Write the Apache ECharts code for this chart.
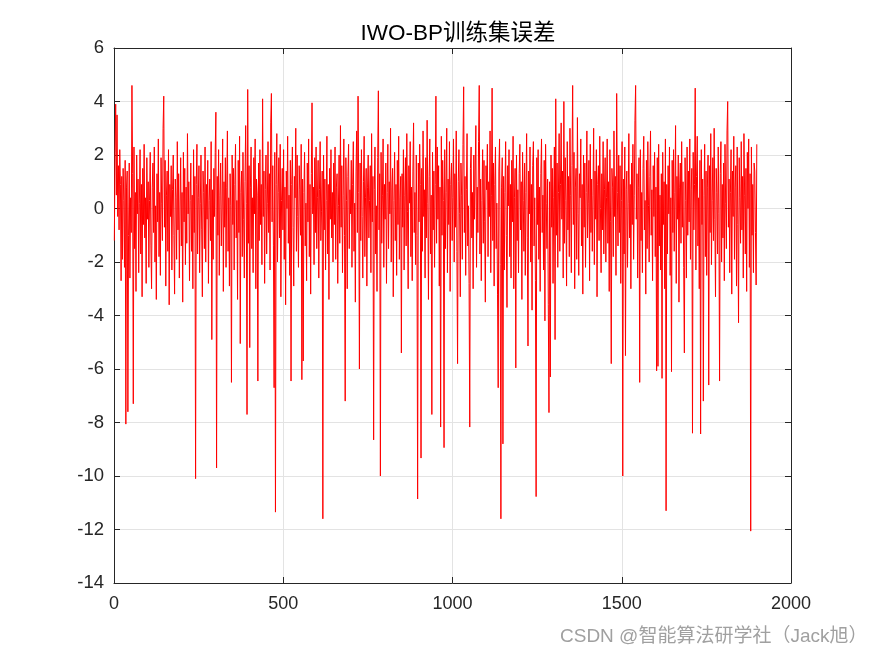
<!DOCTYPE html>
<html><head><meta charset="utf-8">
<script src="https://cdn.jsdelivr.net/npm/echarts@6/dist/echarts.min.js"></script>
<style>html,body{margin:0;padding:0;background:#fff}#c{width:875px;height:656px}</style>
</head><body><div id="c"></div>
<script>
const titleText = 'IWO-BP训练集误差';
const watermark = 'CSDN @智能算法研学社（Jack旭）';
const xStep = 2;   // sample spacing of the error series (every other sample read)
const errors = [
-1.2,2.1,3.9,0.5,3.5,-0.3,1.6,-0.8,2.2,0.9,-2.7,1.2,-1.9,1.5,0.3,-2.2,1.8,-8.06,0.8,1.4,-7.6,-1.0,1.7,-2.6,0.4,
-0.9,4.6,1.3,-7.3,2.3,-1.5,0.6,-3.1,2.0,-0.2,1.1,-2.4,0.2,2.2,-1.7,0.9,-3.3,1.5,-0.6,2.4,-1.1,0.4,-2.8,1.9,-0.4,
1.0,-2.2,0.3,2.1,-1.4,-3.0,0.8,1.7,-0.9,2.3,-2.0,0.1,-3.4,1.3,-0.5,2.6,-1.8,0.6,-2.5,1.9,0.2,-1.2,3.0,4.2,-0.7,
1.8,-2.9,0.5,1.4,-1.6,2.2,-3.6,0.9,-0.3,1.6,-2.3,0.7,2.0,-1.0,-3.2,1.1,0.4,-1.9,2.5,-0.8,1.3,-2.6,0.0,1.9,-1.4,
0.6,-3.5,2.1,-0.5,1.5,-2.1,0.8,-1.3,2.8,-0.2,1.0,-2.7,0.3,1.7,-1.6,0.5,-3.0,2.2,-0.9,1.2,-10.1,0.9,2.4,-1.7,0.4,
1.6,-2.4,0.2,2.0,-0.8,-3.3,1.4,0.6,-1.5,2.3,-2.0,0.9,-0.4,1.8,-2.8,0.3,1.1,-1.2,2.5,-4.9,0.7,-1.9,1.5,-0.3,2.1,
3.6,-9.7,1.2,-1.0,2.2,-2.5,0.5,1.7,-1.4,0.0,2.6,-3.1,1.0,-0.7,1.9,-2.2,0.8,2.9,-1.6,0.4,-2.9,1.3,0.1,-6.5,2.0,
-0.6,1.5,-2.3,0.9,2.4,-1.1,0.3,-3.4,1.8,-0.9,2.7,-5.05,0.6,1.4,-1.8,2.1,-0.4,-2.6,1.0,3.1,0.2,-7.7,4.45,-1.3,1.6,
-5.2,0.8,2.3,-1.5,0.4,-2.4,1.9,-0.2,2.6,-3.0,1.1,0.5,-6.45,1.7,-1.2,2.2,-0.6,0.9,-2.1,4.1,-0.3,1.4,-2.8,0.7,2.0,
-1.7,0.2,2.5,-0.9,1.3,-2.3,3.2,4.3,-0.5,1.6,-1.4,-6.7,2.1,-11.35,0.9,2.8,-2.0,0.6,1.9,-1.1,2.4,-3.3,0.3,1.5,-0.8,
2.2,-1.9,0.8,-3.6,1.4,0.0,2.7,-1.3,0.5,-2.5,1.8,-6.45,0.9,2.3,-0.7,-2.9,1.2,0.4,3.0,-1.6,2.0,-0.3,-2.2,1.6,0.7,
-1.0,2.4,-6.4,1.1,-5.7,0.6,2.1,-1.4,0.2,-2.7,1.7,-0.5,2.6,-1.8,0.9,-3.2,1.3,3.95,-0.2,0.8,-2.1,1.9,-0.9,2.3,-1.5,
0.4,1.8,-2.6,0.7,2.5,-1.2,-0.1,1.4,-11.6,2.0,-0.8,1.1,-2.3,0.3,2.7,-1.7,0.9,-3.4,1.5,-0.4,2.2,-1.1,0.6,-2.0,1.7,
-0.6,2.3,-1.9,0.8,1.3,-2.8,0.1,2.0,-1.3,3.1,-0.7,1.6,-2.4,0.5,2.6,-1.0,-7.2,1.9,0.3,-3.0,1.2,2.4,-1.5,0.7,-0.2,
1.8,-2.2,0.9,2.5,-1.6,0.2,-3.5,1.4,2.9,-0.9,4.2,0.6,-6.0,1.7,-1.2,2.2,-0.3,-2.6,1.0,2.7,-1.8,0.4,1.5,-2.9,0.8,
2.0,-1.1,0.3,1.6,-2.4,2.8,-0.5,1.2,-8.65,0.7,2.3,-1.7,0.1,-3.1,1.9,4.4,-0.8,1.3,-10.0,2.1,-1.3,0.5,2.6,-2.2,0.9,
-0.4,1.7,-2.8,0.6,2.4,-1.5,1.0,-0.2,3.0,-2.0,0.8,1.5,-3.3,0.3,2.1,-1.2,0.9,-2.5,1.8,-0.6,2.7,-1.9,0.4,1.2,-5.4,
1.3,-0.7,2.2,-2.3,0.5,1.9,-1.4,2.8,-0.1,-3.0,1.6,0.2,2.5,-1.8,0.8,-2.7,1.4,3.2,-0.9,0.6,-2.1,2.0,-1.0,-10.86,1.7,
-0.5,2.4,0.9,-9.33,1.5,-1.6,2.9,-0.3,0.7,-2.6,1.9,-1.1,3.3,0.2,-3.4,1.2,2.6,-1.7,0.5,-7.7,2.1,-0.8,1.4,-2.2,0.9,
4.2,-1.3,2.3,-0.4,1.6,-2.9,0.8,-8.17,2.7,-1.0,1.8,0.3,-8.94,2.2,-1.5,0.6,3.0,-2.4,1.1,-0.6,2.5,-3.1,0.9,1.7,-1.2,
0.4,2.6,-2.0,1.3,-0.7,2.9,-1.6,-5.8,1.0,2.2,-0.2,-3.3,1.7,0.5,-1.9,2.4,4.55,-0.9,1.2,-2.5,0.7,2.8,-1.4,0.1,-2.8,
-8.17,1.5,2.3,-1.1,0.6,-3.0,2.0,-0.4,1.4,3.1,-2.2,0.8,-0.9,2.5,4.6,-1.7,1.1,-2.7,0.3,2.2,-1.3,1.8,-0.5,-3.5,1.6,
0.7,2.4,-1.8,1.0,-0.3,2.9,-2.4,0.5,4.5,-1.2,1.7,-2.9,0.9,2.3,-1.5,0.2,-3.2,-6.7,1.4,2.6,-2.1,-11.6,0.8,1.9,-8.8,
1.2,-2.3,0.6,2.5,-1.0,-3.7,1.6,0.1,2.2,-1.8,0.9,-2.6,1.8,-0.5,2.7,-3.0,0.4,1.5,-5.96,2.0,-1.2,0.7,-2.4,1.3,2.4,
-0.8,1.0,-3.4,2.1,0.3,-1.6,1.7,-2.5,0.6,2.8,-1.1,-5.14,1.4,-0.2,2.3,-2.0,0.9,-3.8,1.6,2.5,-1.4,0.4,-2.7,-10.77,1.9,
-0.6,2.2,-1.9,0.8,-3.1,1.3,2.6,-0.9,0.5,-2.3,1.8,-4.2,2.4,0.2,-1.5,1.1,-3.6,-7.63,1.0,-6.3,2.0,-0.7,1.5,-2.8,0.4,
2.3,-4.9,4.1,-1.0,1.7,-2.2,0.6,2.8,-1.6,0.9,3.2,-0.4,1.4,-2.6,4.0,-1.3,1.9,0.3,-2.9,2.5,-0.8,1.2,-1.8,3.0,0.5,
-2.4,1.6,4.6,-0.6,2.1,-3.0,0.8,1.5,-1.9,3.4,-0.2,-2.5,1.3,0.4,2.6,-1.4,0.9,-3.2,2.0,-0.7,1.7,-2.2,0.6,2.9,-1.1,
0.2,1.8,-2.7,2.4,-0.9,1.1,-1.6,0.5,3.0,-2.1,1.4,-0.4,2.2,-3.3,0.9,1.6,-1.2,2.7,0.0,-2.4,1.3,-0.8,2.5,-1.7,0.7,
1.9,-2.0,0.4,2.6,-1.3,1.0,-3.1,2.2,-0.5,-5.8,1.5,0.8,-1.8,2.9,-0.3,1.2,-2.5,4.3,0.6,-1.4,2.0,-0.9,1.6,-2.8,0.3,
2.5,-10.0,1.1,-1.7,2.3,-5.5,0.7,1.4,-2.2,0.2,2.8,-1.1,0.9,-3.0,1.7,-0.6,2.4,-1.9,0.5,3.3,4.6,-0.4,1.3,-2.6,0.8,
1.9,-6.5,2.2,-1.2,0.6,-2.4,1.5,2.7,-0.8,0.3,-3.2,1.8,-1.5,2.5,0.1,-2.0,1.2,2.9,-1.0,0.7,-2.7,1.6,-0.3,2.1,-1.8,
0.8,-6.07,1.9,-5.9,2.4,-1.4,0.5,-2.3,1.3,-6.35,2.1,-0.6,1.0,-3.0,2.6,-11.3,0.9,-1.7,1.6,-0.2,2.3,-2.5,0.4,-6.1,1.8,
-0.9,2.2,-1.6,0.6,3.1,-2.8,1.2,-0.4,2.0,-3.5,0.8,1.7,-1.3,2.5,-0.7,1.0,-2.2,-5.4,1.9,0.3,-2.6,2.3,-1.0,1.4,-0.5,
2.6,-1.9,0.7,1.5,-8.4,2.1,-0.8,0.9,4.5,-2.3,1.2,2.7,-1.4,0.4,-3.0,1.8,-8.43,2.2,-0.6,1.1,-7.2,0.5,2.4,-1.8,1.4,
-2.5,0.8,2.0,-6.6,1.6,-0.9,2.8,-2.1,0.3,1.9,-1.2,3.0,-0.4,-3.3,1.5,0.6,-1.7,2.3,-0.2,-6.45,1.3,2.5,-2.0,0.9,-1.1,
1.7,-2.7,2.4,0.2,-1.5,2.9,4.0,-0.7,1.1,-2.4,0.6,2.2,-3.2,1.4,-0.3,2.7,-1.9,0.8,1.6,-2.9,2.3,-0.6,-4.27,1.9,0.4,
-1.3,2.5,-0.8,1.2,-2.6,2.8,0.5,-1.7,1.5,-3.1,2.1,0.0,2.6,-2.2,1.3,-12.06,2.3,-1.0,0.9,-2.4,1.7,1.4,-0.9,-2.86,2.4
];
const xTicks = [0, 500, 1000, 1500, 2000];
const yTicks = [-14, -12, -10, -8, -6, -4, -2, 0, 2, 4, 6];

const seriesData = errors.map((v, i) => [xStep * i + 1, v]);
const fontFam = 'Liberation Sans, Arial, Noto Sans CJK SC, sans-serif';
const axisCol = '#262626';
const chart = echarts.init(document.getElementById('c'), null, {renderer: 'canvas'});
const baseX = {
  type: 'value', min: xTicks[0], max: xTicks[xTicks.length - 1], interval: 500,
  axisLine: {show: true, onZero: false, lineStyle: {color: axisCol, width: 1}},
  axisTick: {show: true, inside: true, length: 6, lineStyle: {color: axisCol}},
  splitLine: {show: false}
};
const baseY = {
  type: 'value', min: yTicks[0], max: yTicks[yTicks.length - 1], interval: 2,
  axisLine: {show: true, onZero: false, lineStyle: {color: axisCol, width: 1}},
  axisTick: {show: true, inside: true, length: 6, lineStyle: {color: axisCol}},
  splitLine: {show: false}
};
chart.setOption({
  animation: false,
  backgroundColor: '#ffffff',
  title: {
    text: titleText, left: 453, top: 18, textAlign: 'center',
    textStyle: {fontFamily: fontFam, fontSize: 22.5, fontWeight: 'normal', color: '#000'}
  },
  grid: {left: 114, right: 84, top: 48, bottom: 73, containLabel: false},
  xAxis: [
    Object.assign({}, baseX, {
      position: 'bottom',
      splitLine: {show: true, lineStyle: {color: '#e3e3e3', width: 1}},
      axisLabel: {show: true, color: axisCol, fontSize: 18, fontFamily: fontFam, margin: 12,
                  formatter: v => String(v)}
    }),
    Object.assign({}, baseX, {position: 'top', axisLabel: {show: false}})
  ],
  yAxis: [
    Object.assign({}, baseY, {
      position: 'left',
      splitLine: {show: true, lineStyle: {color: '#e3e3e3', width: 1}},
      axisLabel: {show: true, color: axisCol, fontSize: 18.5, fontFamily: fontFam, margin: 10,
                  formatter: v => String(v)}
    }),
    Object.assign({}, baseY, {position: 'right', axisLabel: {show: false}})
  ],
  series: [{
    type: 'line', data: seriesData, xAxisIndex: 0, yAxisIndex: 0,
    showSymbol: false, symbol: 'none',
    lineStyle: {color: '#ff0000', width: 1},
    clip: true
  }],
  graphic: [{
    type: 'text', left: 560, top: 627,
    style: {text: watermark, fill: '#a0a0a0', fontSize: 19, fontFamily: fontFam}
  }]
});
</script>
</body></html>
